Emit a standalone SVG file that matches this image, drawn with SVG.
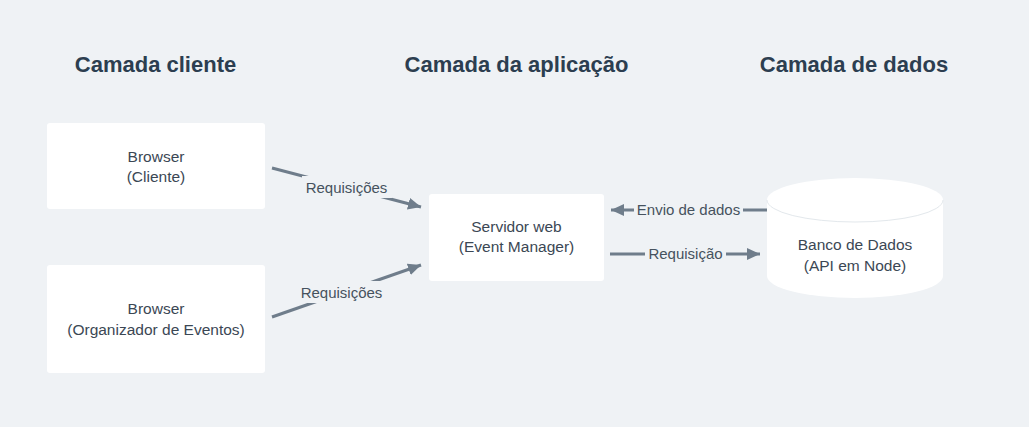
<svg xmlns="http://www.w3.org/2000/svg" width="1029" height="427" viewBox="0 0 1029 427">
<defs>
<style>
.title{font-family:"Liberation Sans",Arial,sans-serif;font-size:22px;font-weight:bold;fill:#2c3e50;text-anchor:middle}
.node{fill:#ffffff}
.lbl{font-family:"Liberation Sans",Arial,sans-serif;font-size:15.5px;fill:#3b4754;text-anchor:middle}
.elbl{font-family:"Liberation Sans",Arial,sans-serif;font-size:15px;fill:#46525e;text-anchor:middle}
.edge{stroke:#6f7d8b;stroke-width:3;fill:none}
.bg{fill:#eff2f5}
</style>
<marker id="ah" markerUnits="userSpaceOnUse" markerWidth="14" markerHeight="12" refX="13" refY="6" orient="auto">
<path d="M0,0 L13,6 L0,12 z" fill="#6f7d8b"/>
</marker>
</defs>
<rect x="0" y="0" width="1029" height="427" fill="#eff2f5"/>
<g id="titles">
<text class="title" x="155.5" y="72">Camada cliente</text>
<text class="title" x="516.5" y="72">Camada da aplicação</text>
<text class="title" x="854" y="72">Camada de dados</text>
</g>
<g id="connectors">
<line class="edge" x1="272" y1="168" x2="421" y2="207" marker-end="url(#ah)"/>
<rect class="bg" x="302" y="176" width="90" height="22"/>
<text class="elbl" x="346.5" y="193">Requisições</text>
<line class="edge" x1="272" y1="317" x2="421" y2="265" marker-end="url(#ah)"/>
<rect class="bg" x="297" y="281" width="90" height="22"/>
<text class="elbl" x="341.5" y="298">Requisições</text>
<line class="edge" x1="767" y1="210" x2="611" y2="210" marker-end="url(#ah)"/>
<rect class="bg" x="634" y="199" width="109" height="22"/>
<text class="elbl" x="688.5" y="215">Envio de dados</text>
<line class="edge" x1="610" y1="254" x2="760" y2="254" marker-end="url(#ah)"/>
<rect class="bg" x="645" y="243" width="81" height="22"/>
<text class="elbl" x="685.5" y="259">Requisição</text>
</g>
<g id="node-browser-cliente">
<rect class="node" x="47" y="123" width="218" height="86" rx="3"/>
<text class="lbl" x="156" y="162">Browser</text>
<text class="lbl" x="156" y="182">(Cliente)</text>
</g>
<g id="node-browser-organizador">
<rect class="node" x="47" y="265" width="218" height="108" rx="3"/>
<text class="lbl" x="156" y="314">Browser</text>
<text class="lbl" x="156" y="335">(Organizador de Eventos)</text>
</g>
<g id="node-servidor">
<rect class="node" x="429" y="194" width="175" height="87" rx="3"/>
<text class="lbl" x="516.5" y="232">Servidor web</text>
<text class="lbl" x="516.5" y="252">(Event Manager)</text>
</g>
<g id="node-banco">
<path class="node" d="M767,200 V276 A88,22 0 0 0 943,276 V200 A88,22 0 0 0 767,200 Z"/>
<path d="M767,200 A88,22 0 0 0 943,200" fill="none" stroke="#e3e8ec" stroke-width="1"/>
<text class="lbl" x="855" y="250">Banco de Dados</text>
<text class="lbl" x="855" y="271">(API em Node)</text>
</g>
</svg>
